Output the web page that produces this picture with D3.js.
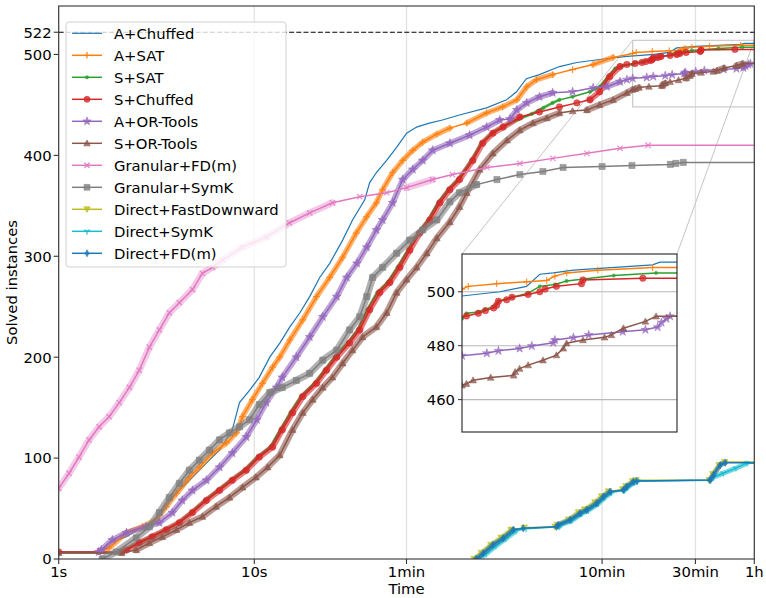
<!DOCTYPE html>
<html>
<head>
<meta charset="utf-8">
<script src="https://cdn.jsdelivr.net/npm/d3@7"></script>
<style>
body { margin: 0; background: #fff; }
text { font-family: "DejaVu Sans", sans-serif; fill: #000; }
</style>
</head>
<body>
<svg id="chart" width="766" height="598"></svg>
<script>
// ---- data: [seconds, solved instances] ----
const aChuffed = [[1,7],[1.6,7],[1.67,9],[1.81,16],[2.22,22],[2.91,36],[3.27,42],[3.68,58],[4.14,68],[4.83,81],[5.69,95],[6.64,108],[7.72,128],[8.4,155],[9.45,167],[10.6,180],[12,200],[13.5,214],[15.2,230],[17.1,244],[19.2,260],[21.6,279],[24.3,293],[28.3,316],[31.8,336],[36.7,356],[38.9,373],[42.1,383],[47.5,395],[53.4,408],[60.1,422],[67.6,428],[78.5,432],[91.6,435],[112,440],[154,447],[195,455],[219,463],[246,476],[287,480],[363,488],[446,492],[583,495],[803,498],[1108,500],[1322,502],[1444,506.5],[1579,507],[1806,508],[3060,510],[3214,511]]
const aSat = [[1.6,7],[1.81,11],[2.22,26],[2.68,32],[3.16,39],[3.55,52],[4,65],[4.66,81],[5.24,91],[6.1,105],[7.2,115],[8.1,125],[8.7,141],[9.78,158],[11,174],[12.4,190],[13.5,200],[15.2,217],[17.7,237],[20.8,260],[24.3,279],[28.3,299],[33.2,323],[37.5,339],[42.1,353],[45.3,366],[51,383],[57.4,395],[64.6,405],[72.6,413],[85.7,421],[100,427],[122,432],[154,442],[186,448],[220,455],[247,468],[277,475],[335,480],[424,485],[540,490],[683,497],[860,501],[897,502],[1083,503],[1322,503.7],[1511,504.2],[1596,505.8],[1726,507],[2124,508],[3060,509]]
const sSat = [[1,6],[2.05,6],[2.2,9],[2.55,16],[2.95,22],[3.5,29],[4.1,36],[4.75,46],[5.6,58],[6.5,68],[7.6,78],[8.9,88],[10.4,101],[12.1,111],[13.6,128],[15.3,145],[17.3,161],[20.3,174],[22.9,187],[25.8,200],[30,214],[33.8,227],[37.8,247],[42.5,264],[48,274],[54,289],[61,306],[68.5,323],[77.5,336],[87,353],[98,366],[110,376],[129,395],[145,412],[164,422],[185,428],[225,436],[262,441],[300,447],[335,452],[363,455],[424,458],[520,463],[583,468],[640,477],[700,486],[770,489],[860,490],[886,492],[959,492.5],[1005,493.5],[1062,494.5],[1096,496.5],[1200,498],[1336,499.5],[1444,502],[1596,502.7],[1726,504],[2362,506],[3132,507]]
const sChuffed = [[1,7],[2.1,7],[2.22,9],[2.58,16],[3.01,22],[3.55,29],[4.14,36],[4.83,46],[5.69,58],[6.64,68],[7.72,78],[9.1,88],[10.6,101],[12.4,111],[13.9,128],[15.7,145],[17.7,161],[20.8,174],[23.4,187],[26.4,200],[30.7,214],[34.6,227],[38.9,247],[43.8,264],[49.3,274],[55.5,289],[62.4,306],[70.2,323],[79.1,336],[89,353],[100,366],[112,376],[131,395],[147,412],[166,422],[187,428],[228,438],[287,443],[363,448],[446,452],[520,455],[583,463],[656,478],[741,488],[803,490],[886,491],[959,492],[1005,493],[1062,494],[1083,495],[1096,496.5],[1158,497],[1200,498],[1336,499],[1444,500],[1496,501],[1613,502],[1906,503],[1925,504.4],[2867,505]]
const aOrTools = [[1.6,7],[1.65,9],[1.88,19],[2.22,26],[2.8,32],[3.27,36],[3.81,46],[4.28,58],[4.83,68],[5.69,78],[6.64,91],[7.72,105],[9.1,121],[10.3,138],[11.5,155],[13,170],[13.9,180],[16.4,200],[19.2,220],[22.4,240],[26.4,260],[29.7,279],[33.5,293],[37.6,309],[42.1,326],[45.3,336],[51,353],[57.4,376],[64.6,386],[72.6,395],[81.6,405],[100,412],[126,420],[154,428],[180,435],[203,436],[220,445],[247,452],[287,458],[335,462],[424,463],[540,467],[635,468],[741,473],[803,475],[860,476.3],[1015,477.2],[1096,478.1],[1262,479],[1369,479.9],[1579,481.1],[1596,482.1],[1806,483],[2000,484],[2508,485.2],[2917,485.9],[3165,486.9],[3246,488.6],[3356,490],[3438,490.9]]
const sOrTools = [[1,6],[2.1,6],[2.49,9],[2.91,16],[3.39,22],[4,29],[4.66,36],[5.43,42],[6.38,52],[7.47,61],[8.7,71],[10.2,81],[11.7,91],[13.5,103],[15.7,128],[17.7,145],[19.9,158],[22.4,170],[25.1,180],[28.3,194],[31.8,207],[35.8,220],[42.1,230],[47.5,244],[53.4,264],[60.1,277],[67.6,289],[76.2,303],[85.7,318],[100,334],[112,349],[122,363],[142,386],[166,402],[196,415],[228,425],[266,432],[313,437],[363,442],[424,444],[502,445],[583,450],[683,455],[803,462],[860,465.3],[886,465.9],[926,467.2],[1041,468.2],[1213,469],[1226,470.3],[1262,471.5],[1336,472.8],[1475,474.6],[1613,476.5],[1689,479],[1726,480.9],[1925,482.1],[2223,483.1],[2326,484],[2520,486.5],[2917,489],[3132,490.9]]
const granFD = [[1,70],[1.13,85],[1.27,101],[1.43,118],[1.61,131],[1.81,141],[2.04,155],[2.3,170],[2.58,187],[2.91,210],[3.27,227],[3.68,244],[4.14,254],[4.83,267],[5.43,283],[6.11,289],[6.87,296],[8.7,309],[11.5,319],[15.1,333],[19.2,343],[25.1,353],[34.6,359],[47.5,363],[60.1,368],[81.6,376],[103,381],[155,388],[228,392],[336,397],[502,402],[741,407],[1031,410]]
const granSymK = [[1.67,0],[1.97,7],[2.49,21],[2.91,32],[3.27,46],[3.68,61],[4.14,75],[4.66,88],[5.24,98],[5.9,108],[6.64,118],[7.47,125],[8.4,131],[9.45,138],[10.6,153],[12,165],[13.9,170],[16.4,177],[19.2,184],[22.4,197],[26.4,207],[30.7,227],[34.6,240],[37.6,260],[40.3,279],[45.3,289],[53.4,303],[62.3,316],[72.6,326],[85.7,336],[100,354],[112,363],[137,371],[174,376],[228,381],[299,384],[379,388],[600,389],[853,390],[1340,391],[1430,392],[1560,393]]
const directFastDownward = [[133,0],[145,6],[162,14],[183,21],[206,29],[240,31],[345,32],[355,34],[405,39],[455,46],[490,49],[552,56],[598,62],[648,67],[765,69],[795,72],[860,77],[895,78],[2120,78],[2210,84],[2380,93],[2540,96]]
const directSymK = [[140,0],[153,5],[172,13],[193,20],[218,28],[245,30],[362,32],[370,34],[420,38],[472,45],[510,48],[575,55],[620,61],[670,66],[780,68],[810,71],[880,76],[910,77],[2142,78],[2229,81],[2500,85],[2900,90],[3300,95]]
const directFD = [[136,0],[148,5.6],[166,14],[187,20.5],[211,29],[237,30.4],[351,32],[358,33.7],[411,38.7],[463,45.3],[500,48.6],[563,55.2],[609,61.7],[659,66.7],[771,68.4],[802,71.7],[867,76.6],[902,77.3],[2142,78.3],[2229,83.3],[2412,93.2],[2558,95.4]]

const seriesNames = ['A+Chuffed','A+SAT','S+SAT','S+Chuffed','A+OR-Tools','S+OR-Tools','Granular+FD(m)','Granular+SymK','Direct+FastDownward','Direct+SymK','Direct+FD(m)']
const seriesData = [aChuffed, aSat, sSat, sChuffed, aOrTools, sOrTools, granFD, granSymK, directFastDownward, directSymK, directFD]
const seriesColors = ['#1f77b4','#ff7f0e','#2ca02c','#d62728','#9467bd','#8c564b','#e377c2','#7f7f7f','#bcbd22','#17becf','#1f77b4']
const seriesMarkers = ['none','plus','point','circle','star','triangle','x','square','tridown','tri1','thindiamond']

const xTickValues = [1, 10, 60, 600, 1800, 3600]
const xTickLabels = ['1s','10s','1min','10min','30min','1h']
const yTickValues = [0, 100, 200, 300, 400, 500, 522]
const insetYTicks = [460, 480, 500]
const bestPossible = 522
const endTime = 3600

// ---- layout ----
const svg = d3.select('#chart')
const plot = {left: 58.7, right: 754.3, top: 6, bottom: 559}
const inset = {left: 462, right: 677, top: 254, bottom: 432}
const fs = 14.8

const x = d3.scaleLog().domain([1, endTime]).range([plot.left, plot.right])
const y = d3.scaleLinear().domain([0, 548]).range([plot.bottom, plot.top])
const xi = d3.scaleLog().domain([860, endTime]).range([inset.left, inset.right])
const yi = d3.scaleLinear().domain([448, 514]).range([inset.bottom, inset.top])

// marker shapes, r is a half size in px
function markerPath(type, r) {
	const circ = rr => `M${rr},0A${rr},${rr} 0 1,1 ${-rr},0A${rr},${rr} 0 1,1 ${rr},0Z`
	switch (type) {
		case 'plus': return `M${-r},0H${r}M0,${-r}V${r}`
		case 'point': return circ(r * 0.5)
		case 'circle': return circ(r * 0.95)
		case 'star': return d3.symbol(d3.symbolStar, r * r * 2.1)()
		case 'triangle': return `M0,${-r}L${r},${r * 0.8}L${-r},${r * 0.8}Z`
		case 'x': return `M${-r * 0.8},${-r * 0.8}L${r * 0.8},${r * 0.8}M${-r * 0.8},${r * 0.8}L${r * 0.8},${-r * 0.8}`
		case 'square': return `M${-r * 0.9},${-r * 0.9}h${r * 1.8}v${r * 1.8}h${-r * 1.8}Z`
		case 'tridown': return `M0,${r}L${r},${-r * 0.8}L${-r},${-r * 0.8}Z`
		case 'tri1': return `M0,0V${r}M0,0L${-r * 0.87},${-r * 0.5}M0,0L${r * 0.87},${-r * 0.5}`
		case 'thindiamond': return `M0,${-r * 1.1}L${r * 0.6},0L0,${r * 1.1}L${-r * 0.6},0Z`
	}
	return null
}
const strokedMarkers = ['plus', 'x', 'tri1']
const bandWidths = {plus: 5.5, point: 3, circle: 6, star: 6, triangle: 6.5, x: 7, square: 7, tridown: 5, tri1: 5, thindiamond: 5}

const defs = svg.append('defs')
defs.append('clipPath').attr('id', 'clipMain').append('rect')
	.attr('x', plot.left).attr('y', plot.top)
	.attr('width', plot.right - plot.left).attr('height', plot.bottom - plot.top)
defs.append('clipPath').attr('id', 'clipInset').append('rect')
	.attr('x', inset.left).attr('y', inset.top)
	.attr('width', inset.right - inset.left).attr('height', inset.bottom - inset.top)

// vertical grid
svg.append('g').selectAll('line').data(xTickValues).join('line')
	.attr('x1', d => x(d)).attr('x2', d => x(d))
	.attr('y1', plot.top).attr('y2', plot.bottom)
	.attr('stroke', '#e2e2e2').attr('stroke-width', 1.3)

// 522 reference line
svg.append('line')
	.attr('x1', plot.left).attr('x2', plot.right)
	.attr('y1', y(bestPossible)).attr('y2', y(bestPossible))
	.attr('stroke', '#000').attr('stroke-width', 1.2).attr('stroke-dasharray', '5,2.2')

// zoom rectangle and connectors
const zx0 = x(860), zx1 = x(endTime), zy0 = y(514), zy1 = y(448)
svg.append('rect').attr('x', zx0).attr('y', zy0).attr('width', zx1 - zx0).attr('height', zy1 - zy0)
	.attr('fill', 'none').attr('stroke', '#c4c4c4').attr('stroke-width', 1.1)
svg.append('line').attr('x1', zx0).attr('y1', zy0).attr('x2', inset.left).attr('y2', inset.top)
	.attr('stroke', '#c4c4c4').attr('stroke-width', 1)
svg.append('line').attr('x1', zx1).attr('y1', zy0).attr('x2', inset.right).attr('y2', inset.top)
	.attr('stroke', '#c4c4c4').attr('stroke-width', 1)

function drawSeries(g, xs, ys, markerR, useBand) {
	seriesData.forEach((data, i) => {
		const color = seriesColors[i]
		const mk = seriesMarkers[i]
		const full = data.concat([[endTime, data[data.length - 1][1]]])
		const pts = full.map(d => [xs(d[0]), ys(d[1])])
		const s = g.append('g')
		// dense runs of markers look like a thick band in the original
		if (mk !== 'none' && useBand) {
			let dpath = ''
			for (let k = 1; k < pts.length - 1; k++) {
				const dx = pts[k][0] - pts[k - 1][0]
				const dy = pts[k - 1][1] - pts[k][1]
				if (dy > 0.3 * dx && dy > 1) {
					dpath += `M${pts[k - 1][0]},${pts[k - 1][1]}L${pts[k][0]},${pts[k][1]}`
				}
			}
			s.append('path').attr('d', dpath).attr('fill', 'none')
				.attr('stroke', color).attr('stroke-width', bandWidths[mk])
				.attr('stroke-opacity', mk === 'x' ? 0.4 : 0.6).attr('stroke-linecap', 'round')
		}
		s.append('path').attr('d', d3.line()(pts)).attr('fill', 'none')
			.attr('stroke', color).attr('stroke-width', i === 0 ? 1.2 : 1.5)
		if (mk !== 'none') {
			const p = markerPath(mk, markerR)
			const stroked = strokedMarkers.includes(mk)
			s.selectAll('path.m').data(data).join('path').attr('class', 'm')
				.attr('d', p)
				.attr('transform', d => `translate(${xs(d[0])},${ys(d[1])})`)
				.attr('fill', stroked ? 'none' : color)
				.attr('fill-opacity', 0.75)
				.attr('stroke', color).attr('stroke-width', stroked ? 1.2 : 0.6)
				.attr('stroke-opacity', 0.8)
		}
	})
}

drawSeries(svg.append('g').attr('clip-path', 'url(#clipMain)'), x, y, 3.4, true)

// axes spines
svg.append('rect').attr('x', plot.left).attr('y', plot.top)
	.attr('width', plot.right - plot.left).attr('height', plot.bottom - plot.top)
	.attr('fill', 'none').attr('stroke', '#333').attr('stroke-width', 1.1)

// y ticks
const yt = svg.append('g')
yTickValues.forEach(v => {
	yt.append('line').attr('x1', plot.left - 5).attr('x2', plot.left)
		.attr('y1', y(v)).attr('y2', y(v)).attr('stroke', '#333').attr('stroke-width', 1.1)
	yt.append('text').attr('x', plot.left - 7).attr('y', y(v)).attr('dy', '0.36em')
		.attr('text-anchor', 'end').attr('font-size', fs).text(v)
})
// x ticks
const xt = svg.append('g')
xTickValues.forEach((v, i) => {
	xt.append('line').attr('x1', x(v)).attr('x2', x(v))
		.attr('y1', plot.bottom).attr('y2', plot.bottom + 5).attr('stroke', '#333').attr('stroke-width', 1.1)
	xt.append('text').attr('x', x(v)).attr('y', 577)
		.attr('text-anchor', 'middle').attr('font-size', fs).text(xTickLabels[i])
})
svg.append('text').attr('x', (plot.left + plot.right) / 2).attr('y', 594)
	.attr('text-anchor', 'middle').attr('font-size', fs).text('Time')
svg.append('text').attr('transform', `translate(17,${(plot.top + plot.bottom) / 2}) rotate(-90)`)
	.attr('text-anchor', 'middle').attr('font-size', fs).text('Solved instances')

// ---- inset ----
const ig = svg.append('g')
ig.selectAll('line.grid').data(insetYTicks).join('line').attr('class', 'grid')
	.attr('x1', inset.left).attr('x2', inset.right)
	.attr('y1', d => yi(d)).attr('y2', d => yi(d))
	.attr('stroke', '#b8b8b8').attr('stroke-width', 1.1)
drawSeries(ig.append('g').attr('clip-path', 'url(#clipInset)'), xi, yi, 3.4, false)
ig.append('rect').attr('x', inset.left).attr('y', inset.top)
	.attr('width', inset.right - inset.left).attr('height', inset.bottom - inset.top)
	.attr('fill', 'none').attr('stroke', '#222').attr('stroke-width', 1.1)
insetYTicks.forEach(v => {
	ig.append('line').attr('x1', inset.left - 4).attr('x2', inset.left)
		.attr('y1', yi(v)).attr('y2', yi(v)).attr('stroke', '#333')
	ig.append('text').attr('x', inset.left - 7).attr('y', yi(v)).attr('dy', '0.36em')
		.attr('text-anchor', 'end').attr('font-size', fs).text(v)
})

// ---- legend ----
const lg = svg.append('g')
lg.append('rect').attr('x', 66).attr('y', 22).attr('width', 220).attr('height', 245).attr('rx', 3)
	.attr('fill', '#fff').attr('fill-opacity', 0.8).attr('stroke', '#d0d0d0')
seriesNames.forEach((name, i) => {
	const ly = 33.3 + i * 22
	const color = seriesColors[i]
	lg.append('line').attr('x1', 72).attr('x2', 102).attr('y1', ly).attr('y2', ly)
		.attr('stroke', color).attr('stroke-width', i === 0 ? 1.2 : 1.5)
	const mk = seriesMarkers[i]
	if (mk !== 'none') {
		const stroked = strokedMarkers.includes(mk)
		lg.append('path').attr('d', markerPath(mk, 3.2))
			.attr('transform', `translate(87,${ly})`)
			.attr('fill', stroked ? 'none' : color).attr('fill-opacity', 0.8)
			.attr('stroke', color).attr('stroke-width', stroked ? 1.2 : 0.6)
	}
	lg.append('text').attr('x', 114).attr('y', ly).attr('dy', '0.36em')
		.attr('font-size', fs).text(name)
})
</script>
</body>
</html>
